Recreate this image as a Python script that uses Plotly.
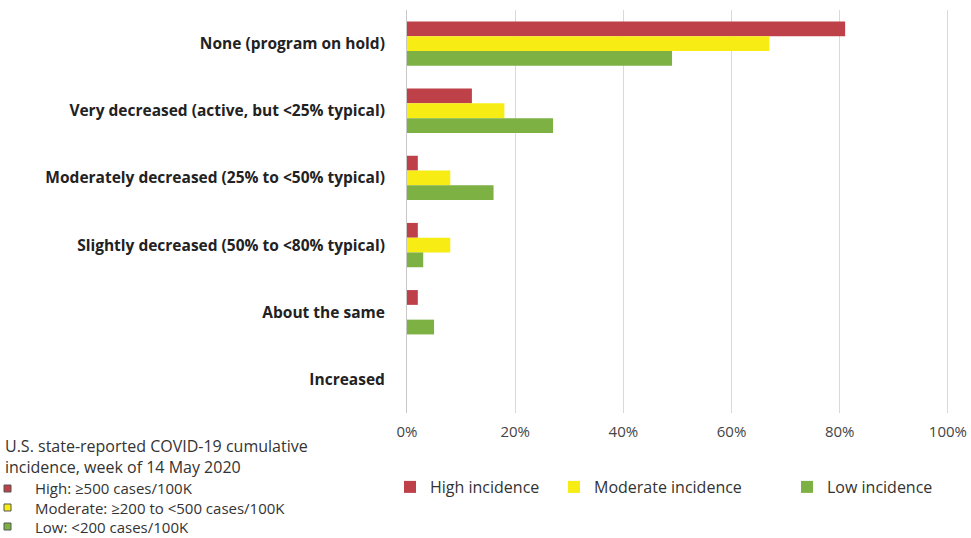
import plotly.graph_objects as go

categories = [
    "None (program on hold)",
    "Very decreased (active, but <25% typical)",
    "Moderately decreased (25% to <50% typical)",
    "Slightly decreased (50% to <80% typical)",
    "About the same",
    "Increased",
]
high = [81, 12, 2, 2, 2, 0]
moderate = [67, 18, 8, 8, 0, 0]
low = [49, 27, 16, 3, 5, 0]
series_names = ["High incidence", "Moderate incidence", "Low incidence"]
colors = ["#BE4149", "#F7EC13", "#7DB143"]
tick_vals = [0, 0.2, 0.4, 0.6, 0.8, 1.0]
tick_text = ["0%", "20%", "40%", "60%", "80%", "100%"]
note_title = [
    "U.S. state-reported COVID-19 cumulative",
    "incidence, week of 14 May 2020",
]
note_items = [
    "High: \u2265500 cases/100K",
    "Moderate: \u2265200 to <500 cases/100K",
    "Low: <200 cases/100K",
]

PL, PR, PT, PB = 407, 949, 10, 413  # plot area in px
W, H = 971, 538
PW, PH = PR - PL, PB - PT

def px_x(x):
    return (x - PL) / PW

def px_y(y):
    return (PB - y) / PH

fig = go.Figure()
legend_ids = ["legend", "legend2", "legend3"]
legend_x = [390, 554, 787]
for name, vals, col, lid in zip(series_names, [high, moderate, low], colors, legend_ids):
    fig.add_trace(go.Bar(
        y=categories, x=[v / 100 for v in vals], name=name, orientation="h",
        marker=dict(color=col, line=dict(width=0)), legend=lid,
    ))

legend_common = dict(orientation="h", xanchor="left", yanchor="middle",
                     font=dict(size=16, color="#333"), itemwidth=30,
                     bgcolor="rgba(0,0,0,0)", borderwidth=0)

fig.update_layout(
    width=W, height=H,
    margin=dict(l=PL, r=W - PR, t=PT, b=H - PB, autoexpand=False),
    paper_bgcolor="white", plot_bgcolor="white",
    barmode="group", bargap=0.34, bargroupgap=0,
    font=dict(family="Open Sans, Liberation Sans, sans-serif", size=14, color="#333"),
    xaxis=dict(range=[0, 1.002], tickvals=tick_vals, ticktext=tick_text,
               showgrid=True, gridcolor="#d9d9d9", gridwidth=1,
               zeroline=False, showline=False, automargin=False,
               tickfont=dict(size=15, color="#444"), ticks="", ticklabelstandoff=8),
    yaxis=dict(autorange="reversed", showline=True, linecolor="#c8c8c8", linewidth=1,
               ticks="", ticklabelstandoff=18, automargin=False,
               tickfont=dict(size=15.5, color="#222", weight="bold")),
    legend=dict(x=px_x(legend_x[0]), y=px_y(487), **legend_common),
    legend2=dict(x=px_x(legend_x[1]), y=px_y(487), **legend_common),
    legend3=dict(x=px_x(legend_x[2]), y=px_y(487), **legend_common),
    showlegend=True,
)

# Bottom-left note (two text blocks)
fig.add_annotation(xref="paper", yref="paper", x=px_x(4), y=px_y(456.5),
                   xanchor="left", yanchor="middle", align="left", showarrow=False,
                   borderpad=0,
                   text="<br>".join(note_title), font=dict(size=16, color="#333"))
fig.add_annotation(xref="paper", yref="paper", x=px_x(34), y=px_y(507),
                   xanchor="left", yanchor="middle", align="left", showarrow=False,
                   borderpad=0,
                   text="<br>".join(note_items), font=dict(size=15, color="#333"))
item_ys = [488.5, 507.5, 526.5]
for col, yp in zip(colors, item_ys):
    fig.add_shape(type="rect", xref="paper", yref="paper",
                  x0=px_x(4), x1=px_x(11), y0=px_y(yp + 3.5), y1=px_y(yp - 3.5),
                  fillcolor=col, line=dict(color="#555", width=1))

fig.write_html("out.html", config={"displayModeBar": False},
               post_script="document.body.style.margin='0';document.body.style.overflow='hidden';")
